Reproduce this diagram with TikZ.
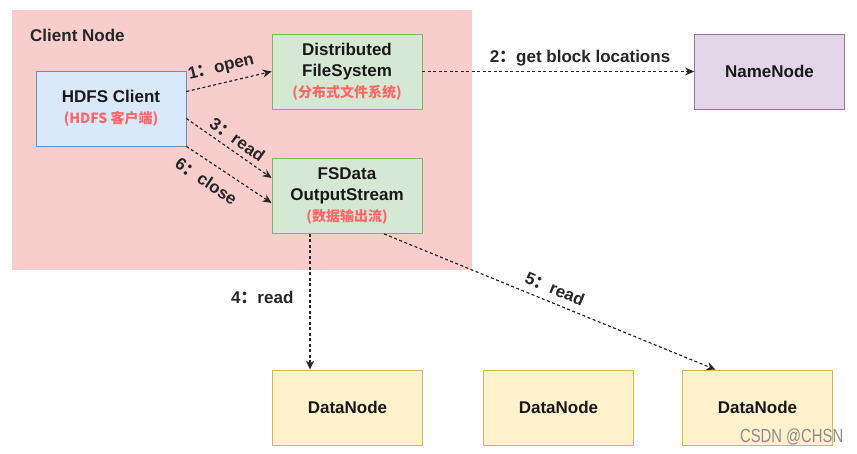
\documentclass[tikz,border=0pt]{standalone}
\usepackage{fontspec}
\setmainfont{Liberation Sans}
\newfontfamily\cjk{Noto Sans CJK SC}
\usetikzlibrary{arrows.meta}

\definecolor{clientbg}{HTML}{F8CECC}
\definecolor{blaufill}{HTML}{DAE8FC}
\definecolor{blaurand}{HTML}{6C8EBF}
\definecolor{gruenfill}{HTML}{D5E8D4}
\definecolor{gruenrand}{HTML}{82B366}
\definecolor{lilafill}{HTML}{E1D5E7}
\definecolor{lilarand}{HTML}{9673A6}
\definecolor{gelbfill}{HTML}{FFF2CC}
\definecolor{gelbrand}{HTML}{D6B656}
\definecolor{rottext}{HTML}{FF6666}

\newcommand{\zh}[1]{{\color{rottext}\cjk\bfseries\fontsize{14}{20}\selectfont #1}}
\newcommand{\dpkt}{{\cjk ：}}

\begin{document}
\begin{tikzpicture}[x=1pt,y=-1pt,
    box/.style={draw, line width=0.8pt, minimum width=150pt, minimum height=75pt,
        align=center, font=\bfseries\fontsize{17}{21}\selectfont, text=black!90},
    pfeil/.style={-{Stealth[length=9pt,width=8pt]}, line width=1.2pt,
        dash pattern=on 3pt off 2.5pt, black!85},
    lbl/.style={font=\bfseries\fontsize{17}{21}\selectfont, text=black!85, inner sep=2pt}]

    % Hintergrund und Rahmen
    \fill[white] (0,0) rectangle (857,453);
    \useasboundingbox (0,0) rectangle (857,453);
    \node[fill=clientbg, minimum width=460pt, minimum height=260pt, inner sep=0pt] (client) at (242,140) {};
    \node[lbl, anchor=west] (clientlbl) at (28,35) {Client Node};

    % zeichne Knoten
    \node[box, fill=blaufill, draw=blaurand] (hdfs) at (111,108.5) {HDFS Client\\\zh{(HDFS 客户端)}};
    \node[box, fill=gruenfill, draw=gruenrand] (dfs) at (347,71.5) {Distributed\\FileSystem\\\zh{(分布式文件系统)}};
    \node[box, fill=gruenfill, draw=gruenrand] (fsdata) at (347,196) {FSData\\OutputStream\\\zh{(数据输出流)}};
    \node[box, fill=lilafill, draw=lilarand] (nn) at (769.5,71.5) {NameNode};
    \node[box, fill=gelbfill, draw=gelbrand] (dn1) at (347.5,407.5) {DataNode};
    \node[box, fill=gelbfill, draw=gelbrand] (dn2) at (558.5,407.5) {DataNode};
    \node[box, fill=gelbfill, draw=gelbrand] (dn3) at (757.5,407.5) {DataNode};

    % zeichne Pfeile
    \draw[pfeil] ([yshift=17pt]hdfs.east) -- (dfs.west)
        node[lbl, sloped, above=5pt, pos=0.45] {1\dpkt open};
    \draw[pfeil] (dfs.east) -- (nn.west)
        node[lbl, above=3pt, pos=0.58] {2\dpkt get block locations};
    \draw[pfeil] ([yshift=-10pt]hdfs.east) -- ([yshift=18pt]fsdata.west)
        node[lbl, sloped, above=3pt, pos=0.52] {3\dpkt read};
    \draw[pfeil] (hdfs.south east) -- ([yshift=-7pt]fsdata.west)
        node[lbl, sloped, below=9pt, pos=0.35] {6\dpkt close};
    \draw[pfeil] ([xshift=-37pt]fsdata.south) -- ([xshift=-37.5pt]dn1.north)
        node[lbl, left=14pt, pos=0.47] {4\dpkt read};
    \draw[pfeil] ([xshift=37pt]fsdata.south) -- ([xshift=-42pt]dn3.north)
        node[lbl, sloped, above=5pt, pos=0.5] {5\dpkt read};

    % Wasserzeichen
    \node[text=black!45, font=\fontsize{19}{20}\selectfont, xscale=0.78, anchor=east] (wz) at (846,437) {CSDN @CHSN};
\end{tikzpicture}
\end{document}
